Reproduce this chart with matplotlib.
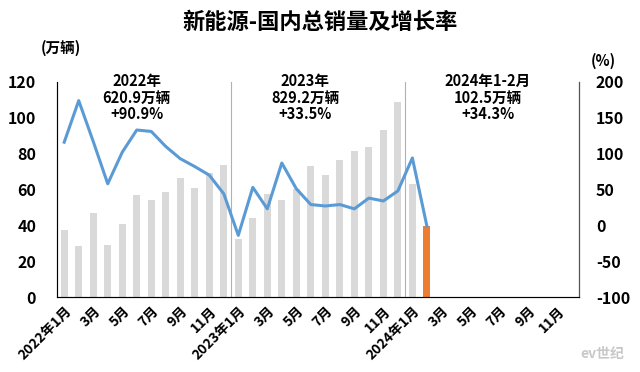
import numpy as np
import matplotlib
matplotlib.use('Agg')
import matplotlib.pyplot as plt

plt.rcParams['font.family'] = ['Noto Sans CJK SC', 'DejaVu Sans']
plt.rcParams['axes.unicode_minus'] = False

# monthly domestic NEV sales (万辆), 2022-01 .. 2024-02
sales = [37.6, 28.7, 47.1, 28.8, 40.7, 57.1, 54.1, 58.6, 66.2, 60.8, 69.4, 73.5,
         32.6, 43.9, 57.7, 54.0, 60.5, 73.3, 68.3, 76.3, 81.3, 83.7, 93.4, 108.8,
         63.3, 39.4]
# year-on-year growth (%)
growth = [116, 174, 117, 58, 102, 133, 131, 110, 93, 82, 70, 44,
          -14, 53, 23, 87, 51, 29, 27, 29, 23, 38, 34, 48,
          94, -1]

months = ['2022年1月'] + ['%d月' % m for m in range(2, 13)] + \
         ['2023年1月'] + ['%d月' % m for m in range(2, 13)] + \
         ['2024年1月'] + ['%d月' % m for m in range(2, 13)]

notes = ['2022年\n620.9万辆\n+90.9%', '2023年\n829.2万辆\n+33.5%', '2024年1-2月\n102.5万辆\n+34.3%']
note_x = [5, 16.6, 29.2]

fig = plt.figure(figsize=(6.4, 3.72), dpi=100)
ax = fig.add_axes([0.089, 0.2016, 0.816, 0.578])

x = np.arange(len(sales))
colors = ['#d9d9d9'] * (len(sales) - 1) + ['#ed7d31']
ax.bar(x, sales, width=0.48, color=colors, zorder=1)
ax.set_xlim(-0.5, len(months) - 0.5)
ax.set_ylim(0, 120)
ax.set_yticks(range(0, 121, 20))
ax.set_xticks(range(0, len(months), 2))
ax.set_xticklabels(months[::2], rotation=45, ha='right', rotation_mode='anchor',
                   fontsize=10, fontweight='bold')
ax.tick_params(axis='x', length=0, pad=5)
ax.tick_params(axis='y', length=0, pad=15)
for lab in ax.get_yticklabels():
    lab.set_fontweight('bold')
    lab.set_fontsize(11.5)
ax.spines['top'].set_visible(False)
ax.spines['left'].set_color('#555555')
ax.spines['bottom'].set_color('#555555')

for xv in [11.5, 23.5]:
    ax.axvline(xv, color='#a6b4c2', lw=0.8, zorder=0)

ax2 = ax.twinx()
ax2.plot(x, growth, color='#5b9bd5', lw=2.2, zorder=3)
ax2.set_ylim(-100, 200)
ax2.set_yticks(range(-100, 201, 50))
ax2.tick_params(axis='y', length=0, pad=12)
for lab in ax2.get_yticklabels():
    lab.set_fontweight('bold')
    lab.set_fontsize(11.5)
ax2.spines['top'].set_visible(False)
ax2.spines['right'].set_color('#555555')

for t, xv in zip(notes, note_x):
    ax.text(xv, 125, t, ha='center', va='top', fontsize=10.5, fontweight='bold',
            linespacing=1.05)

fig.text(0.5, 0.94, '新能源-国内总销量及增长率', ha='center', va='center',
         fontsize=16, fontweight='bold')
fig.text(0.095, 0.87, '(万辆)', ha='center', va='center', fontsize=10.5, fontweight='bold')
fig.text(0.942, 0.835, '(%)', ha='center', va='center', fontsize=10.5, fontweight='bold')
fig.text(0.975, 0.03, 'ev世纪', ha='right', va='bottom', fontsize=10,
         fontweight='bold', style='italic', color='#c8c8c8')

fig.savefig('out.png', dpi=100)
